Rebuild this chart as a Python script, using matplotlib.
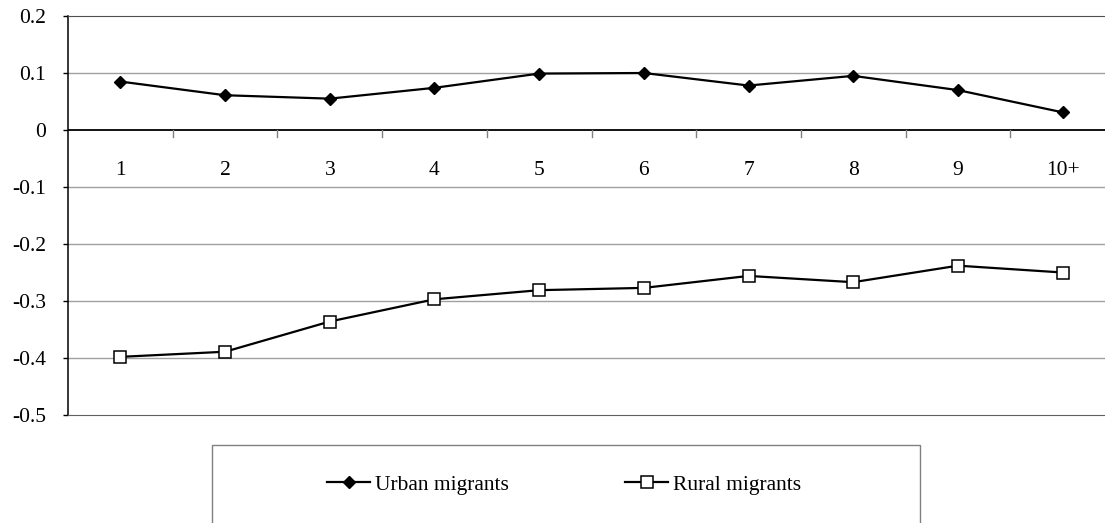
import matplotlib

matplotlib.use("Agg")
import matplotlib.pyplot as plt
from matplotlib.lines import Line2D
from matplotlib.patches import Rectangle
from matplotlib.ticker import FixedLocator, FuncFormatter

plt.rcParams["font.family"] = ["Liberation Serif", "DejaVu Serif"]
plt.rcParams["axes.unicode_minus"] = False

categories = ["1", "2", "3", "4", "5", "6", "7", "8", "9", "10+"]
urban = [0.085, 0.061, 0.055, 0.074, 0.099, 0.100, 0.078, 0.095, 0.070, 0.031]
rural = [-0.398, -0.389, -0.336, -0.297, -0.281, -0.277, -0.256, -0.267, -0.238, -0.250]
y_ticks = [0.2, 0.1, 0.0, -0.1, -0.2, -0.3, -0.4, -0.5]

FS = 15.5

fig = plt.figure(figsize=(11.05, 5.23), dpi=100)
# plot area runs a little past the right edge of the picture, like the source
ax = fig.add_axes([68 / 1105, 0.2065, 1047 / 1105, 0.7629])

x = list(range(len(categories)))
ax.plot(x, urban, color="black", lw=1.6, marker="D", ms=6.5,
        mfc="black", mec="black", zorder=3)
ax.plot(x, rural, color="black", lw=1.6, marker="s", ms=8,
        mfc="white", mec="black", mew=1.1, zorder=3)

ax.set_xlim(-0.5, len(categories) - 0.5)
ax.set_ylim(-0.5, 0.2)

# gridlines (top/bottom come from the spines, zero from the axis line)
for v in y_ticks[1:-1]:
    if v != 0.0:
        ax.axhline(v, color="#a0a0a0", lw=1.0, zorder=1)

ax.spines["right"].set_visible(False)
ax.spines["top"].set_color("#505050")
ax.spines["bottom"].set_color("#606060")
ax.spines["left"].set_color("black")
ax.spines["left"].set_linewidth(1.1)

# zero line with category ticks and labels underneath
ax.axhline(0, color="black", lw=1.3, zorder=2)
ax.set_xticks([])
for i, lab in enumerate(categories):
    ax.annotate(lab, xy=(i, 0), xytext=(0, -40 * 72 / 100), textcoords="offset points",
                ha="center", va="center", fontsize=FS)
for i in x[:-1]:
    ax.add_line(Line2D([i + 0.5, i + 0.5], [0, -0.012], color="#808080", lw=1.0, zorder=2))

ax.set_yticks(y_ticks)
ax.yaxis.set_major_formatter(FuncFormatter(lambda v, p: f"{v:g}" if abs(v) > 1e-9 else "0"))
ax.tick_params(axis="y", direction="out", length=3.6, width=1.0, pad=12, labelsize=FS)

# legend box (runs off the bottom of the picture)
fig.patches.append(Rectangle((212 / 1105, -0.1), (920 - 212) / 1105, 0.1491 + 0.1,
                             transform=fig.transFigure, fill=False,
                             edgecolor="#808080", lw=1.0))
handles = [
    Line2D([], [], color="black", lw=1.6, marker="D", ms=6.5, mfc="black", mec="black"),
    Line2D([], [], color="black", lw=1.6, marker="s", ms=8, mfc="white", mec="black", mew=1.1),
]
fig.legend(handles, ["Urban migrants", "Rural migrants"], loc="center left",
           bbox_to_anchor=(327 / 1105, 0.0727), ncol=2, frameon=False,
           fontsize=FS, handlelength=2.0, handletextpad=0.23, columnspacing=5.4,
           borderpad=0, borderaxespad=0)

fig.savefig("out.png", dpi=100)
